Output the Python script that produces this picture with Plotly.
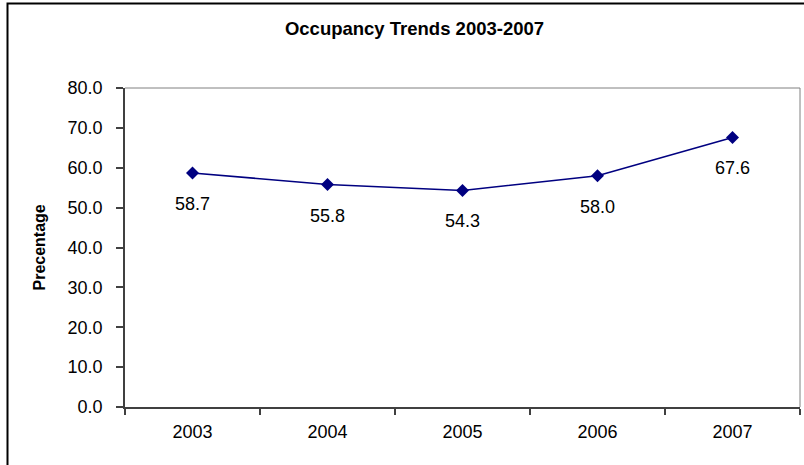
import plotly.graph_objects as go

years = ["2003", "2004", "2005", "2006", "2007"]
occupancy = [58.7, 55.8, 54.3, 58.0, 67.6]
y_ticks = [0, 10, 20, 30, 40, 50, 60, 70, 80]
title_text = "Occupancy Trends 2003-2007"
y_title = "Precentage"

FONT = "Liberation Sans, Arial, sans-serif"
W, H = 804, 465
L, R, T, B = 125, 4, 88, 58
pw, ph = W - L - R, H - T - B

fig = go.Figure()
fig.add_trace(go.Scatter(
    x=years, y=occupancy, mode="lines+markers",
    line=dict(color="#000080", width=1.6),
    marker=dict(symbol="diamond", size=10, color="#000080"),
    showlegend=False, hoverinfo="skip",
))

for i, v in enumerate(occupancy):
    fig.add_annotation(x=i, y=v, text=f"{v:.1f}", showarrow=False,
                       yshift=-31, font=dict(family=FONT, size=18, color="black"))

# y-axis title
fig.add_annotation(xref="paper", yref="paper", x=(39 - L) / pw, y=0.5,
                   text=f"<b>{y_title}</b>", textangle=-90, showarrow=False,
                   xanchor="center", yanchor="middle",
                   font=dict(family=FONT, size=16, color="black"))

# plot area top/right border (gray)
fig.add_shape(type="line", xref="paper", yref="paper", x0=0, x1=1, y0=1, y1=1,
              line=dict(color="#808080", width=1))
fig.add_shape(type="line", xref="paper", yref="paper", x0=1, x1=1, y0=0, y1=1,
              line=dict(color="#808080", width=1))
# outer chart frame
fig.add_shape(type="rect", xref="paper", yref="paper",
              x0=(7.5 - L) / pw, x1=1.5, y0=-0.5, y1=(H - B - 3.5) / ph,
              line=dict(color="black", width=2))

fig.update_layout(
    width=W, height=H,
    margin=dict(l=L, r=R, t=T, b=B),
    paper_bgcolor="white", plot_bgcolor="white",
    font=dict(family=FONT, size=18, color="black"),
    title=dict(text=f"<b>{title_text}</b>", x=414.5 / W, xanchor="center",
               y=1 - 28.8 / H, yanchor="middle", yref="container",
               font=dict(family=FONT, size=18.5, color="black")),
    xaxis=dict(type="category", range=[-0.5, 4.5], showgrid=False,
               showline=True, linecolor="#404040", linewidth=1.5,
               ticks="outside", tickson="boundaries", ticklen=6,
               tickcolor="#404040", tickwidth=1.5, ticklabelstandoff=8,
               fixedrange=True),
    yaxis=dict(range=[0, 80], tickvals=y_ticks, tickformat=".1f", showgrid=False,
               zeroline=False, showline=True, linecolor="#404040", linewidth=1.5,
               ticks="outside", ticklen=7, tickcolor="#404040", tickwidth=1.5,
               ticklabelstandoff=10, fixedrange=True),
)

fig.write_html("out.html")
